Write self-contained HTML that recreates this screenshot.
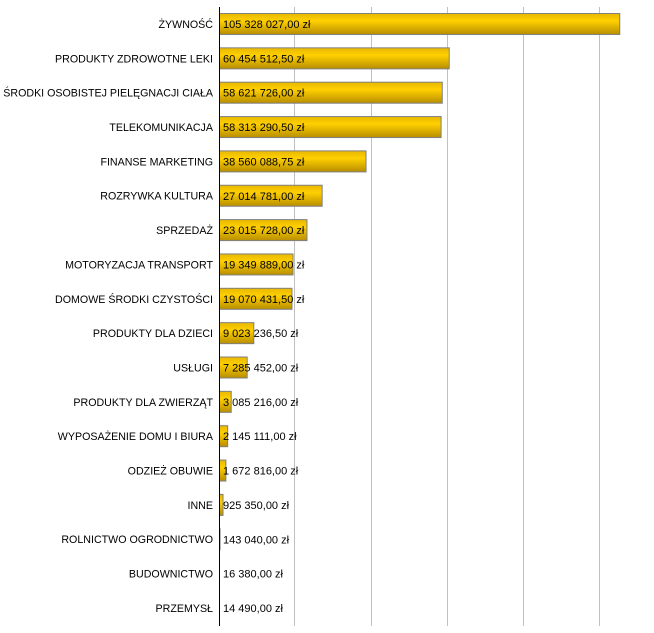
<!DOCTYPE html>
<html><head><meta charset="utf-8"><style>body{margin:0;background:#fff}svg{display:block}</style></head>
<body>
<svg width="654" height="633" xmlns="http://www.w3.org/2000/svg" font-family="Liberation Sans, sans-serif" font-size="11">
<defs><linearGradient id="g" x1="0" y1="0" x2="0" y2="1">
<stop offset="0" stop-color="#e8b800"/><stop offset="0.35" stop-color="#ffd000"/><stop offset="1" stop-color="#b88e00"/></linearGradient></defs>
<g stroke="#c0c0c0" stroke-width="1">
<line x1="294.5" y1="7" x2="294.5" y2="626"/><line x1="371.5" y1="7" x2="371.5" y2="626"/>
<line x1="447.5" y1="7" x2="447.5" y2="626"/><line x1="523.5" y1="7" x2="523.5" y2="626"/>
<line x1="599.5" y1="7" x2="599.5" y2="626"/></g>
<g id="bars" stroke="#808080" stroke-width="1" fill="url(#g)"></g>
<line x1="219.5" y1="7" x2="219.5" y2="626" stroke="#000"/>
<g id="labels" text-anchor="end" fill="#000" transform="translate(213,0) scale(0.97,1) translate(-213,0)"></g>
<g id="vals" fill="#000"></g>
<script>
var d=[["ŻYWNOŚĆ",105328027,"105 328 027,00 zł"],["PRODUKTY ZDROWOTNE LEKI",60454512.5,"60 454 512,50 zł"],["ŚRODKI OSOBISTEJ PIELĘGNACJI CIAŁA",58621726,"58 621 726,00 zł"],["TELEKOMUNIKACJA",58313290.5,"58 313 290,50 zł"],["FINANSE MARKETING",38560088.75,"38 560 088,75 zł"],["ROZRYWKA KULTURA",27014781,"27 014 781,00 zł"],["SPRZEDAŻ",23015728,"23 015 728,00 zł"],["MOTORYZACJA TRANSPORT",19349889,"19 349 889,00 zł"],["DOMOWE ŚRODKI CZYSTOŚCI",19070431.5,"19 070 431,50 zł"],["PRODUKTY DLA DZIECI",9023236.5,"9 023 236,50 zł"],["USŁUGI",7285452,"7 285 452,00 zł"],["PRODUKTY DLA ZWIERZĄT",3085216,"3 085 216,00 zł"],["WYPOSAŻENIE DOMU I BIURA",2145111,"2 145 111,00 zł"],["ODZIEŻ OBUWIE",1672816,"1 672 816,00 zł"],["INNE",925350,"925 350,00 zł"],["ROLNICTWO OGRODNICTWO",143040,"143 040,00 zł"],["BUDOWNICTWO",16380,"16 380,00 zł"],["PRZEMYSŁ",14490,"14 490,00 zł"]];
var ns="http://www.w3.org/2000/svg",B=document.getElementById("bars"),L=document.getElementById("labels"),V=document.getElementById("vals");
d.forEach(function(r,i){var c=24+i*34.35,w=r[1]*3.8e-6;
if(w>0.5){var e=document.createElementNS(ns,"rect");e.setAttribute("x",219.5);e.setAttribute("y",c-10.5);e.setAttribute("width",w);e.setAttribute("height",21);B.appendChild(e);}
var t=document.createElementNS(ns,"text");t.setAttribute("x",213);t.setAttribute("y",c+4);t.textContent=r[0];L.appendChild(t);
var v=document.createElementNS(ns,"text");v.setAttribute("x",223);v.setAttribute("y",c+4);v.textContent=r[2];V.appendChild(v);});
</script>
</svg>
</body></html>
